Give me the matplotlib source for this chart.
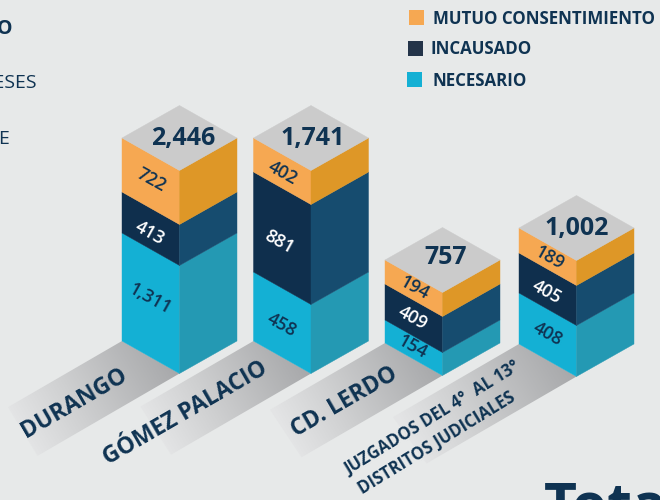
import matplotlib
matplotlib.use("Agg")
import matplotlib.pyplot as plt
import numpy as np
from matplotlib.colors import LinearSegmentedColormap
from matplotlib.patches import Polygon

columns = ["DURANGO", "GÓMEZ PALACIO", "CD. LERDO", "JUZGADOS DEL 4°  AL 13°\nDISTRITOS JUDICIALES"]
necesario = [1311, 458, 154, 408]
incausado = [413, 881, 409, 405]
mutuo = [722, 402, 194, 189]
legend_names = ["MUTUO CONSENTIMIENTO", "INCAUSADO", "NECESARIO"]

# the drawn heights in the picture do not follow the values, so they are kept apart
necesario_h = [108, 69, 23, 51]
incausado_h = [41, 100, 36, 40]
mutuo_h = [54, 34, 24, 25]

left_x = [122, 253.5, 385, 519]
base_y = [341, 341, 343, 344]
half_w = 57.5
half_d = 32.5

# where the value labels sit
necesario_pos = [(150, 299), (282, 325), (413, 347), (548, 334)]
incausado_pos = [(150, 233), (279, 242), (413, 318), (547, 292)]
mutuo_pos = [(151, 180), (283, 173), (415, 288), (550, 258)]
total_pos = [(183, 139), (313, 139), (446, 257), (577, 229)]

BG = "#e7e9e9"
INK = "#0f3352"
TOP = "#cbcbcb"
FRONT = {"mutuo": "#f6a852", "incausado": "#0f2f4d", "necesario": "#14b0d4"}
SIDE = {"mutuo": "#de9727", "incausado": "#164c6f", "necesario": "#2499b3"}
FONT = "Open Sans"

fig = plt.figure(figsize=(6.6, 5), dpi=100, facecolor=BG)
ax = fig.add_axes([0, 0, 1, 1])
ax.set_xlim(0, 660)
ax.set_ylim(500, 0)
ax.axis("off")

band_cmap = LinearSegmentedColormap.from_list(
    "band", [(0, "#e3e4e5"), (0.35, "#cfd0d1"), (1, "#a7a8aa")])


def ground_band(x0, y0, len_a, len_b):
    # strip running down-left from the foot of a column, fading into the background
    corners = [(x0, y0), (x0 + half_w, y0 + half_d),
               (x0 + half_w - len_b, y0 + half_d + len_b * 0.58),
               (x0 - len_a, y0 + len_a * 0.58)]
    gx, gy = np.meshgrid(np.arange(0, 660), np.arange(0, 500))
    along = ((gx - corners[1][0]) * -0.86 + (gy - corners[1][1]) * 0.5) / (len_b * 1.15)
    im = ax.imshow(1 - np.clip(along, 0, 1), cmap=band_cmap, vmin=0, vmax=1,
                   extent=(0, 660, 500, 0), aspect="auto", zorder=1)
    clip = Polygon(corners, closed=True, transform=ax.transData, facecolor="none", edgecolor="none")
    ax.add_patch(clip)
    im.set_clip_path(clip)


def face(points, color):
    ax.add_patch(Polygon(points, closed=True, facecolor=color, edgecolor=color, lw=0.3, zorder=3))


def value_label(pos, val, col):
    ax.text(pos[0], pos[1], f"{val:,}", color=col, fontsize=13, fontweight="semibold", family=FONT,
            rotation=-29, rotation_mode="anchor", ha="center", va="center", zorder=5)


band_a = [114, 113, 115, 126]
band_b = [142, 140, 141, 150]
for i in range(4):
    ground_band(left_x[i], base_y[i], band_a[i], band_b[i])

for i in range(4):
    x0 = left_x[i]
    xc = x0 + half_w
    x1 = x0 + half_w * 2
    y = base_y[i]
    for key, h in (("necesario", necesario_h[i]), ("incausado", incausado_h[i]), ("mutuo", mutuo_h[i])):
        face([(x0, y), (xc, y + half_d), (xc, y + half_d - h), (x0, y - h)], FRONT[key])
        face([(xc, y + half_d), (x1, y), (x1, y - h), (xc, y + half_d - h)], SIDE[key])
        y -= h
    face([(x0, y), (xc, y + half_d), (x1, y), (xc, y - half_d)], TOP)

    value_label(necesario_pos[i], necesario[i], INK)
    value_label(incausado_pos[i], incausado[i], "white")
    value_label(mutuo_pos[i], mutuo[i], INK)
    total = necesario[i] + incausado[i] + mutuo[i]
    ax.text(total_pos[i][0], total_pos[i][1], f"{total:,}", color=INK, fontsize=18, fontweight="bold", family=FONT,
            ha="center", va="center", zorder=5)

label_x = [74, 185, 344]
label_y = [403, 413, 402]
for i in range(3):
    ax.text(label_x[i], label_y[i], columns[i], color=INK, fontsize=16.5, fontweight="bold", family=FONT,
            rotation=30, rotation_mode="anchor", ha="center", va="center", zorder=5)
line1, line2 = columns[3].split("\n")
ax.text(432, 418, line1, color=INK, fontsize=12, fontweight="bold", family=FONT,
        rotation=31.5, rotation_mode="anchor", ha="center", va="center", zorder=5)
ax.text(437, 443, line2, color=INK, fontsize=12, fontweight="bold", family=FONT,
        rotation=31.5, rotation_mode="anchor", ha="center", va="center", zorder=5)

# legend
swatch_x = [409, 408, 407]
swatch_y = [10, 41, 72]
swatch_c = [FRONT["mutuo"], "#243449", FRONT["necesario"]]
text_x = [433, 431, 432]
text_y = [19, 49, 81]
for i in range(3):
    s = swatch_y[i]
    ax.add_patch(Polygon([(swatch_x[i], s), (swatch_x[i] + 14.5, s), (swatch_x[i] + 14.5, s + 14.5), (swatch_x[i], s + 14.5)],
                         closed=True, facecolor=swatch_c[i], edgecolor="none", zorder=5))
    ax.text(text_x[i], text_y[i], legend_names[i], color=INK, fontsize=12.2, fontweight="bold", family=FONT,
            ha="left", va="center", zorder=5)

# text cut off by the edge of the crop
ax.text(12, 29, "O", color=INK, fontsize=14, fontweight="bold", family=FONT, ha="right", va="center", clip_on=True)
ax.text(37, 83, "MESES", color=INK, fontsize=14, family=FONT, ha="right", va="center", clip_on=True)
ax.text(9, 139, "E", color=INK, fontsize=14, family=FONT, ha="right", va="center", clip_on=True)
ax.text(544, 524, "Total", color=INK, fontsize=41, fontweight="bold", family=FONT, ha="left", va="baseline", clip_on=True)

fig.savefig("out.png", dpi=100, facecolor=BG)
